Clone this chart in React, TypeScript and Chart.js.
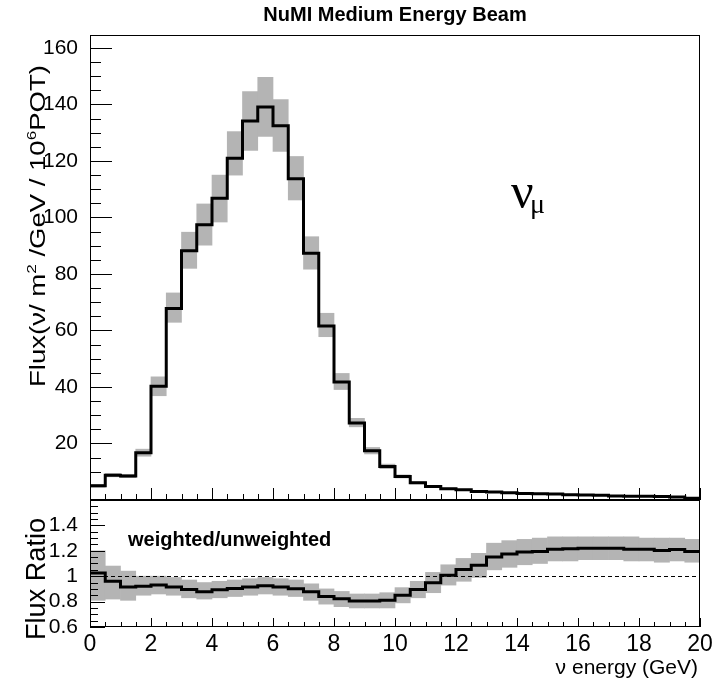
import React, { useEffect, useRef } from "react";
import { Chart, registerables } from "chart.js";

Chart.register(...registerables);

// ---------------- data ----------------
const BIN_EDGES = [
  0, 0.5, 1, 1.5, 2, 2.5, 3, 3.5, 4, 4.5, 5, 5.5, 6, 6.5, 7, 7.5, 8, 8.5, 9, 9.5,
  10, 10.5, 11, 11.5, 12, 12.5, 13, 13.5, 14, 14.5, 15, 15.5, 16, 16.5, 17, 17.5, 18, 18.5, 19, 19.5, 20,
];

const FLUX = [
  5.0, 8.8, 8.5, 16.7, 40.3, 67.8, 88.2, 97.4, 106.8, 121.0,
  134.2, 139.1, 132.5, 113.7, 87.3, 61.6, 41.8, 27.3, 17.4, 11.9,
  8.3, 6.1, 4.8, 4.0, 3.6, 3.0, 2.8, 2.6, 2.3, 2.2,
  2.1, 1.9, 1.8, 1.7, 1.4, 1.3, 1.3, 1.2, 1.1, 0.6,
];
const FLUX_LO = [
  4.5, 8.2, 7.9, 15.5, 36.9, 62.9, 82.0, 90.2, 98.4, 115.0,
  123.7, 128.7, 123.4, 106.2, 81.7, 57.8, 39.1, 25.9, 16.3, 11.1,
  7.8, 5.7, 4.5, 3.8, 3.4, 2.85, 2.65, 2.5, 2.2, 2.1,
  2.0, 1.8, 1.7, 1.6, 1.35, 1.25, 1.25, 1.15, 1.05, 0.55,
];
const FLUX_HI = [
  5.5, 9.4, 9.1, 18.0, 43.6, 73.3, 94.8, 104.8, 115.0, 130.4,
  144.6, 149.6, 141.7, 121.6, 93.2, 66.1, 44.8, 28.9, 18.6, 12.7,
  8.9, 6.5, 5.1, 4.2, 3.8, 3.15, 2.95, 2.7, 2.4, 2.3,
  2.2, 2.0, 1.9, 1.8, 1.45, 1.35, 1.35, 1.25, 1.15, 0.65,
];

const RATIO = [
  1.026, 0.96, 0.914, 0.92, 0.93, 0.915, 0.896, 0.877, 0.893, 0.904,
  0.914, 0.924, 0.914, 0.901, 0.878, 0.841, 0.823, 0.805, 0.805, 0.81,
  0.85, 0.896, 0.948, 1.008, 1.052, 1.086, 1.151, 1.174, 1.19, 1.195,
  1.213, 1.216, 1.221, 1.221, 1.221, 1.213, 1.213, 1.203, 1.21, 1.195,
];
const RATIO_LO = [
  0.81, 0.82, 0.81, 0.85, 0.86, 0.85, 0.83, 0.82, 0.83, 0.84,
  0.85, 0.86, 0.85, 0.84, 0.81, 0.78, 0.76, 0.75, 0.75, 0.75,
  0.79, 0.83, 0.87, 0.93, 0.96, 0.99, 1.05, 1.07, 1.09, 1.10,
  1.12, 1.12, 1.13, 1.13, 1.13, 1.12, 1.12, 1.11, 1.12, 1.11,
];
const RATIO_HI = [
  1.20, 1.08, 1.04, 1.00, 1.00, 0.99, 0.97, 0.95, 0.96, 0.97,
  0.98, 0.99, 0.98, 0.97, 0.94, 0.90, 0.88, 0.86, 0.86, 0.87,
  0.91, 0.96, 1.03, 1.09, 1.14, 1.18, 1.26, 1.28, 1.29, 1.30,
  1.31, 1.31, 1.31, 1.31, 1.31, 1.31, 1.30, 1.30, 1.30, 1.29,
];

const X_MIN = 0;
const X_MAX = 20;
const X_LABEL_STEP = 2;
const X_MINOR_STEP = 0.5;
const FLUX_MIN = 0;
const FLUX_MAX = 164.6;
const FLUX_LABEL_STEP = 20;
const FLUX_MINOR_STEP = 5;
const RATIO_MIN = 0.6;
const RATIO_MAX = 1.6;
const RATIO_LABEL_STEP = 0.2;
const RATIO_MINOR_STEP = 0.05;
const RATIO_REF = 1;

const TITLE = "NuMI Medium Energy Beam";
const RATIO_TEXT = "weighted/unweighted";
const X_TITLE = "ν energy (GeV)";
const RATIO_Y_TITLE = "Flux Ratio";

// ---------------- style ----------------
const SANS = '"Liberation Sans", Arial, Helvetica, sans-serif';
const SERIF = '"Liberation Serif", "Times New Roman", serif';
const BAND = "#b4b4b4";

const stepPoints = (vals: number[]) => [
  ...vals.map((v, i) => ({ x: BIN_EDGES[i], y: v })),
  { x: BIN_EDGES[vals.length], y: vals[vals.length - 1] },
];
const bandPoints = (lo: number[], hi: number[]) =>
  lo.map((l, i) => ({ x: (BIN_EDGES[i] + BIN_EDGES[i + 1]) / 2, y: [l, hi[i]] }));

type Part = { t: string; size: number; rise?: number };

function richWidth(ctx: CanvasRenderingContext2D, parts: Part[], weight: string, fam: string) {
  let w = 0;
  for (const p of parts) {
    ctx.font = `${weight} ${p.size}px ${fam}`;
    w += ctx.measureText(p.t).width;
  }
  return w;
}
function drawRich(ctx: CanvasRenderingContext2D, parts: Part[], weight: string, fam: string) {
  let x = 0;
  for (const p of parts) {
    ctx.font = `${weight} ${p.size}px ${fam}`;
    ctx.fillText(p.t, x, -(p.rise || 0));
    x += ctx.measureText(p.t).width;
  }
}

function drawVerticalTitle(
  ctx: CanvasRenderingContext2D,
  parts: Part[],
  baseX: number,
  startY: number,
  length: number,
  thick: number
) {
  ctx.save();
  ctx.translate(baseX, startY);
  ctx.rotate(-Math.PI / 2);
  const w = richWidth(ctx, parts, "normal", SANS);
  ctx.scale(length / w, thick);
  ctx.fillStyle = "#000";
  ctx.textAlign = "left";
  ctx.textBaseline = "alphabetic";
  drawRich(ctx, parts, "normal", SANS);
  ctx.restore();
}

function drawFrameAndTicks(
  chart: any,
  yMin: number,
  yMax: number,
  yLabelStep: number,
  yMinorStep: number,
  yMajorLen: number,
  yMinorLen: number,
  xMajorLen: number,
  xMinorLen: number
) {
  const { ctx, chartArea: a } = chart;
  const xs = chart.scales.x;
  const ys = chart.scales.y;
  ctx.save();
  ctx.strokeStyle = "#000";
  ctx.lineWidth = 1;
  ctx.setLineDash([]);
  ctx.strokeRect(a.left + 0.5, a.top + 0.5, a.right - a.left - 1, a.bottom - a.top - 1);
  ctx.beginPath();
  const ny = Math.round((yMax - yMin) / yMinorStep);
  for (let k = 0; k <= ny; k++) {
    const v = yMin + k * yMinorStep;
    if (v > yMax + 1e-9) break;
    const r = v / yLabelStep;
    const major = Math.abs(r - Math.round(r)) < 1e-6;
    const py = Math.round(ys.getPixelForValue(v)) + 0.5;
    ctx.moveTo(a.left, py);
    ctx.lineTo(a.left + (major ? yMajorLen : yMinorLen), py);
  }
  const nx = Math.round((X_MAX - X_MIN) / X_MINOR_STEP);
  for (let k = 0; k <= nx; k++) {
    const v = X_MIN + k * X_MINOR_STEP;
    const r = v / X_LABEL_STEP;
    const major = Math.abs(r - Math.round(r)) < 1e-6;
    const px = Math.round(xs.getPixelForValue(v)) + 0.5;
    ctx.moveTo(px, a.bottom);
    ctx.lineTo(px, a.bottom - (major ? xMajorLen : xMinorLen));
  }
  ctx.stroke();
  ctx.restore();
}

const topDecor = {
  id: "topDecor",
  afterDraw(chart: any) {
    const ctx: CanvasRenderingContext2D = chart.ctx;
    drawFrameAndTicks(chart, FLUX_MIN, FLUX_MAX, FLUX_LABEL_STEP, FLUX_MINOR_STEP, 22, 11, 12, 6);
    ctx.save();
    ctx.fillStyle = "#000";
    ctx.textAlign = "center";
    ctx.textBaseline = "alphabetic";
    ctx.font = `bold 20px ${SANS}`;
    const a = chart.chartArea;
    ctx.fillText(TITLE, (a.left + a.right) / 2, 21);
    ctx.textAlign = "left";
    ctx.font = `50px ${SERIF}`;
    ctx.fillText("ν", 511, 208);
    ctx.font = `28px ${SERIF}`;
    ctx.fillText("μ", 530, 213);
    ctx.restore();
    drawVerticalTitle(
      ctx,
      [
        { t: "Flux(ν/ m", size: 24 },
        { t: "2", size: 15, rise: 10 },
        { t: " /GeV / 10", size: 24 },
        { t: "6", size: 15, rise: 10 },
        { t: "POT)", size: 24 },
      ],
      45,
      387,
      322,
      0.9
    );
  },
};

const bottomDecor = {
  id: "bottomDecor",
  afterDraw(chart: any) {
    const ctx: CanvasRenderingContext2D = chart.ctx;
    const a = chart.chartArea;
    const ys = chart.scales.y;
    // reference line
    ctx.save();
    ctx.strokeStyle = "#000";
    ctx.lineWidth = 1;
    ctx.setLineDash([4, 3]);
    const py = Math.round(ys.getPixelForValue(RATIO_REF)) + 0.5;
    ctx.beginPath();
    ctx.moveTo(a.left, py);
    ctx.lineTo(a.right, py);
    ctx.stroke();
    ctx.restore();
    drawFrameAndTicks(chart, RATIO_MIN, RATIO_MAX, RATIO_LABEL_STEP, RATIO_MINOR_STEP, 15, 8, 9, 5);
    ctx.save();
    ctx.fillStyle = "#000";
    ctx.textBaseline = "alphabetic";
    ctx.textAlign = "left";
    ctx.font = `bold 20px ${SANS}`;
    ctx.fillText(RATIO_TEXT, 128, 46);
    ctx.textAlign = "right";
    ctx.font = `21px ${SANS}`;
    ctx.fillText(X_TITLE, 698, 174);
    ctx.restore();
    drawVerticalTitle(ctx, [{ t: RATIO_Y_TITLE, size: 27 }], 45, 140, 122, 1);
  },
};

const fitY = (s: any) => {
  s.width = 90;
  s.paddingTop = 0;
  s.paddingBottom = 0;
};

function makeTop(canvas: HTMLCanvasElement) {
  return new Chart(canvas, {
    type: "bar",
    data: {
      datasets: [
        {
          type: "bar",
          data: bandPoints(FLUX_LO, FLUX_HI) as any,
          backgroundColor: BAND,
          borderWidth: 0,
          barPercentage: 1,
          categoryPercentage: 1,
          order: 2,
        } as any,
        {
          type: "line",
          data: stepPoints(FLUX) as any,
          stepped: "before",
          borderColor: "#000",
          borderWidth: 3,
          borderJoinStyle: "miter",
          borderCapStyle: "butt",
          pointRadius: 0,
          fill: false,
          order: 1,
        } as any,
      ],
    },
    options: {
      animation: false,
      responsive: false,
      maintainAspectRatio: false,
      events: [],
      layout: { padding: { top: 35, right: 27, left: 0, bottom: 0 }, autoPadding: false },
      plugins: { legend: { display: false }, tooltip: { enabled: false } },
      scales: {
        x: {
          type: "linear",
          min: X_MIN,
          max: X_MAX,
          offset: false,
          grid: { display: false, offset: false },
          border: { display: false },
          ticks: { display: false, stepSize: X_LABEL_STEP },
          afterFit: (s: any) => {
            s.height = 0;
            s.paddingLeft = 0;
            s.paddingRight = 0;
          },
        },
        y: {
          type: "linear",
          min: FLUX_MIN,
          max: FLUX_MAX,
          grid: { display: false },
          border: { display: false },
          ticks: {
            stepSize: FLUX_LABEL_STEP,
            includeBounds: false,
            autoSkip: false,
            padding: 4,
            color: "#000",
            font: { family: SANS, size: 21 },
            callback: (v: any) => (Number(v) === 0 ? "" : String(v)),
          },
          afterFit: fitY,
        },
      },
    } as any,
    plugins: [topDecor],
  });
}

function makeBottom(canvas: HTMLCanvasElement) {
  return new Chart(canvas, {
    type: "bar",
    data: {
      datasets: [
        {
          type: "bar",
          data: bandPoints(RATIO_LO, RATIO_HI) as any,
          backgroundColor: BAND,
          borderWidth: 0,
          barPercentage: 1,
          categoryPercentage: 1,
          order: 2,
        } as any,
        {
          type: "line",
          data: stepPoints(RATIO) as any,
          stepped: "before",
          borderColor: "#000",
          borderWidth: 3,
          borderJoinStyle: "miter",
          borderCapStyle: "butt",
          pointRadius: 0,
          fill: false,
          order: 1,
        } as any,
      ],
    },
    options: {
      animation: false,
      responsive: false,
      maintainAspectRatio: false,
      events: [],
      layout: { padding: { top: 0, right: 27, left: 0, bottom: 0 }, autoPadding: false },
      plugins: { legend: { display: false }, tooltip: { enabled: false } },
      scales: {
        x: {
          type: "linear",
          min: X_MIN,
          max: X_MAX,
          offset: false,
          grid: { display: false, offset: false },
          border: { display: false },
          ticks: {
            stepSize: X_LABEL_STEP,
            autoSkip: false,
            maxRotation: 0,
            minRotation: 0,
            padding: -4,
            color: "#000",
            font: { family: SANS, size: 23 },
            callback: (v: any) => String(v),
          },
          afterFit: (s: any) => {
            s.height = 58;
            s.paddingLeft = 0;
            s.paddingRight = 0;
          },
        },
        y: {
          type: "linear",
          min: RATIO_MIN,
          max: RATIO_MAX,
          grid: { display: false },
          border: { display: false },
          ticks: {
            stepSize: RATIO_LABEL_STEP,
            includeBounds: false,
            autoSkip: false,
            padding: 4,
            color: "#000",
            font: { family: SANS, size: 21 },
            callback: (v: any) => {
              const r = Math.round(Number(v) * 10) / 10;
              return r >= RATIO_MAX - 1e-6 ? "" : String(r);
            },
          },
          afterFit: fitY,
        },
      },
    } as any,
    plugins: [bottomDecor],
  });
}

export default function App() {
  const topRef = useRef<HTMLCanvasElement | null>(null);
  const botRef = useRef<HTMLCanvasElement | null>(null);
  useEffect(() => {
    if (!topRef.current || !botRef.current) return;
    const c1 = makeTop(topRef.current);
    const c2 = makeBottom(botRef.current);
    return () => {
      c1.destroy();
      c2.destroy();
    };
  }, []);
  return (
    <div style={{ position: "absolute", left: 0, top: 0, width: 727, height: 685, background: "#fff" }}>
      <canvas
        ref={topRef}
        width={727}
        height={500}
        style={{ position: "absolute", left: 0, top: 0, width: 727, height: 500, display: "block" }}
      />
      <canvas
        ref={botRef}
        width={727}
        height={185}
        style={{ position: "absolute", left: 0, top: 500, width: 727, height: 185, display: "block" }}
      />
    </div>
  );
}
